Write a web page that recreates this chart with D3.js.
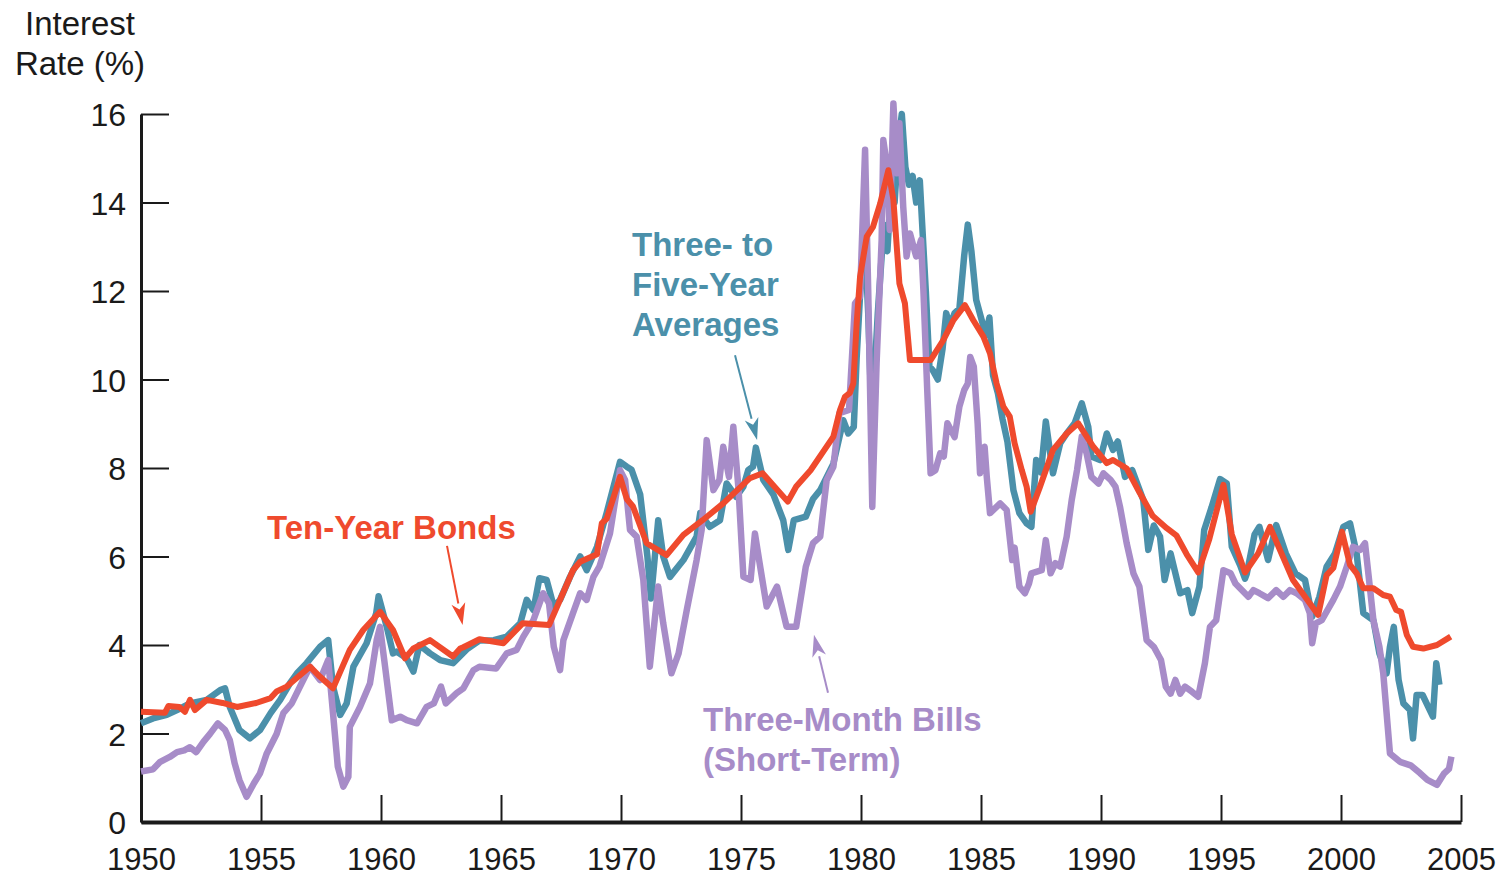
<!DOCTYPE html>
<html><head><meta charset="utf-8">
<script src="https://cdn.jsdelivr.net/npm/d3@7"></script>
<style>
body{margin:0;background:#fff}
text{font-family:"Liberation Sans",Arial,Helvetica,sans-serif}
</style>
</head><body><svg id="c" width="1501" height="877"></svg>
<script>
// ---- data ----
const yearTicks = [1950,1955,1960,1965,1970,1975,1980,1985,1990,1995,2000,2005];
const rateTicks = [0,2,4,6,8,10,12,14,16];

const tenYearBonds = [
[1950.0,2.49],[1951.0,2.47],[1951.14,2.62],[1951.6,2.6],[1951.83,2.49],[1952.04,2.76],[1952.25,2.53],
[1952.74,2.76],[1953.4,2.69],[1954.0,2.6],[1954.8,2.69],[1955.4,2.8],[1955.65,2.95],[1956.07,3.06],
[1957.04,3.51],[1957.46,3.28],[1958.0,3.02],[1958.7,3.89],[1959.26,4.34],[1959.96,4.75],[1960.5,4.34],
[1961.0,3.70],[1961.35,3.92],[1962.04,4.11],[1963.0,3.74],[1963.3,3.92],[1963.43,3.95],[1964.1,4.13],
[1965.1,4.04],[1965.9,4.49],[1967.0,4.45],[1968.0,5.69],[1968.3,5.88],[1969.0,6.05],[1969.2,6.75],
[1969.4,6.85],[1969.96,7.8],[1970.24,7.3],[1970.5,7.13],[1971.07,6.3],[1971.9,6.03],[1972.6,6.49],
[1973.4,6.82],[1974.26,7.2],[1975.37,7.77],[1975.9,7.88],[1976.95,7.24],[1977.3,7.58],[1977.9,7.95],
[1978.85,8.71],[1979.125,9.31],[1979.33,9.61],[1979.54,9.7],[1979.68,9.91],[1979.82,11.27],[1979.96,12.32],
[1980.1,12.78],[1980.24,13.23],[1980.5,13.45],[1980.8,13.98],[1981.14,14.73],[1981.35,14.06],[1981.6,12.17],
[1981.83,11.72],[1982.04,10.44],[1982.9,10.44],[1983.43,10.89],[1983.85,11.34],[1984.33,11.68],[1984.68,11.34],
[1985.1,10.97],[1985.375,10.59],[1985.65,9.91],[1985.93,9.39],[1986.2,9.16],[1986.4,8.56],[1986.7,7.95],
[1986.9,7.58],[1987.07,7.01],[1987.46,7.58],[1988.0,8.41],[1988.57,8.78],[1989.05,9.01],[1989.68,8.48],
[1990.24,8.11],[1990.5,8.18],[1991.07,7.99],[1991.6,7.45],[1992.15,6.92],[1992.74,6.64],[1993.15,6.47],
[1993.57,6.05],[1994.05,5.64],[1994.5,6.37],[1995.1,7.62],[1995.45,6.5],[1996.0,5.64],[1996.55,6.07],
[1997.04,6.67],[1998.0,5.47],[1999.05,4.68],[1999.4,5.58],[1999.68,5.74],[2000.04,6.56],[2000.375,5.81],
[2000.65,5.62],[2000.93,5.28],[2001.35,5.28],[2001.76,5.13],[2002.04,5.09],[2002.3,4.79],[2002.5,4.75],
[2002.74,4.23],[2003.0,3.96],[2003.43,3.92],[2004.0,4.0],[2004.57,4.19]
];

const threeToFiveYear = [
[1950.0,2.23],[1950.5,2.34],[1951.07,2.42],[1951.5,2.53],[1952.04,2.68],[1952.74,2.76],[1953.3,2.98],
[1953.5,3.02],[1953.7,2.6],[1954.1,2.08],[1954.54,1.89],[1954.96,2.08],[1955.4,2.46],[1955.8,2.76],
[1956.2,3.13],[1956.5,3.36],[1956.9,3.59],[1957.46,3.96],[1957.8,4.11],[1958.0,3.06],[1958.3,2.42],
[1958.57,2.68],[1958.85,3.51],[1959.4,4.04],[1959.8,4.72],[1959.9,5.1],[1960.24,4.41],[1960.5,3.81],
[1960.65,3.85],[1961.07,3.7],[1961.35,3.4],[1961.6,4.0],[1962.04,3.81],[1962.46,3.66],[1963.0,3.59],
[1963.57,3.9],[1964.1,4.1],[1964.7,4.11],[1965.24,4.19],[1965.8,4.49],[1966.07,5.02],[1966.35,4.79],
[1966.6,5.51],[1966.9,5.47],[1967.2,4.87],[1967.46,5.02],[1967.875,5.54],[1968.3,6.0],[1968.57,5.69],
[1969.0,6.22],[1969.4,6.98],[1969.96,8.14],[1970.24,8.03],[1970.44,7.96],[1970.8,7.4],[1971.1,6.0],
[1971.25,5.05],[1971.55,6.82],[1971.76,6.0],[1972.04,5.54],[1972.6,5.92],[1973.15,6.45],[1973.3,6.98],
[1973.7,6.67],[1974.125,6.82],[1974.4,7.65],[1974.8,7.35],[1975.1,7.58],[1975.3,7.95],[1975.5,8.03],
[1975.62,8.46],[1975.93,7.73],[1976.35,7.4],[1976.76,6.82],[1976.97,6.15],[1977.2,6.82],[1977.7,6.9],
[1978.0,7.3],[1978.3,7.5],[1978.85,8.1],[1979.26,9.08],[1979.47,8.78],[1979.7,8.93],[1979.82,10.5],
[1979.96,11.9],[1980.15,13.3],[1980.3,11.5],[1980.45,9.0],[1980.7,11.5],[1980.95,13.5],[1981.1,12.9],
[1981.25,14.3],[1981.4,14.0],[1981.55,15.3],[1981.7,16.0],[1981.85,14.8],[1982.0,14.4],[1982.15,14.6],
[1982.3,14.0],[1982.45,14.5],[1982.55,13.5],[1982.7,12.0],[1982.85,10.3],[1983.0,10.2],[1983.2,10.0],
[1983.4,10.7],[1983.55,11.5],[1983.7,11.2],[1983.9,11.5],[1984.1,11.6],[1984.3,12.8],[1984.45,13.5],
[1984.6,12.9],[1984.8,11.8],[1985.0,11.4],[1985.2,11.0],[1985.35,11.4],[1985.5,10.1],[1985.7,9.7],
[1985.9,9.1],[1986.1,8.6],[1986.35,7.5],[1986.6,6.98],[1986.9,6.75],[1987.1,6.67],[1987.3,8.18],
[1987.5,7.9],[1987.7,9.05],[1988.0,7.88],[1988.3,8.56],[1988.57,8.78],[1988.9,9.01],[1989.2,9.46],
[1989.47,8.93],[1989.6,8.26],[1989.96,8.18],[1990.24,8.78],[1990.5,8.41],[1990.7,8.6],[1991.0,7.8],
[1991.3,7.95],[1991.76,7.28],[1991.97,6.15],[1992.2,6.7],[1992.46,6.45],[1992.65,5.47],[1992.9,6.07],
[1993.3,5.17],[1993.6,5.24],[1993.8,4.72],[1994.1,5.32],[1994.3,6.6],[1994.6,7.1],[1994.96,7.75],
[1995.24,7.65],[1995.45,6.22],[1995.8,5.8],[1996.0,5.5],[1996.07,5.6],[1996.4,6.5],[1996.6,6.67],
[1996.96,5.92],[1997.3,6.71],[1997.7,6.07],[1998.1,5.62],[1998.5,5.47],[1998.8,4.64],[1999.1,5.09],
[1999.4,5.77],[1999.75,6.07],[2000.1,6.67],[2000.375,6.75],[2000.65,6.07],[2000.93,4.72],[2001.35,4.56],
[2001.6,3.81],[2001.9,3.36],[2002.04,3.96],[2002.2,4.41],[2002.4,3.21],[2002.6,2.68],[2002.875,2.53],
[2003.0,1.89],[2003.15,2.87],[2003.4,2.87],[2003.83,2.38],[2003.97,3.59],[2004.1,3.10]
];

const threeMonthBills = [
[1950.0,1.14],[1950.5,1.19],[1950.8,1.36],[1951.2,1.47],[1951.5,1.58],[1951.8,1.62],[1952.04,1.69],
[1952.3,1.58],[1952.6,1.81],[1952.875,1.99],[1953.2,2.23],[1953.5,2.08],[1953.7,1.85],[1953.9,1.33],
[1954.1,0.95],[1954.4,0.57],[1954.7,0.87],[1954.96,1.1],[1955.24,1.55],[1955.65,1.99],[1955.93,2.46],
[1956.28,2.68],[1956.76,3.21],[1957.04,3.51],[1957.46,3.21],[1957.8,3.66],[1958.0,2.46],[1958.2,1.25],
[1958.43,0.80],[1958.64,1.02],[1958.7,2.15],[1959.125,2.6],[1959.54,3.13],[1959.82,4.11],[1959.96,4.41],
[1960.17,3.51],[1960.45,2.3],[1960.8,2.38],[1961.07,2.3],[1961.5,2.23],[1961.9,2.6],[1962.2,2.68],
[1962.5,3.06],[1962.7,2.68],[1963.15,2.91],[1963.43,3.02],[1963.85,3.43],[1964.1,3.51],[1964.8,3.47],
[1965.24,3.81],[1965.65,3.89],[1965.93,4.19],[1966.35,4.56],[1966.76,5.17],[1967.0,4.94],[1967.2,3.96],
[1967.46,3.43],[1967.6,4.11],[1968.0,4.72],[1968.3,5.17],[1968.57,5.02],[1968.85,5.54],[1969.1,5.77],
[1969.54,6.52],[1969.96,7.95],[1970.17,7.73],[1970.375,6.6],[1970.65,6.45],[1970.93,5.47],[1971.2,3.51],
[1971.55,5.32],[1971.76,4.49],[1972.1,3.36],[1972.4,3.81],[1972.74,4.79],[1973.15,5.92],[1973.36,6.6],
[1973.57,8.63],[1973.85,7.5],[1974.1,7.73],[1974.26,8.48],[1974.5,7.8],[1974.68,8.93],[1974.9,7.5],
[1975.1,5.54],[1975.4,5.47],[1975.58,6.52],[1975.8,5.77],[1976.07,4.87],[1976.5,5.32],[1976.9,4.41],
[1977.3,4.41],[1977.7,5.77],[1978.0,6.3],[1978.3,6.45],[1978.57,7.73],[1978.85,8.03],[1979.1,9.24],
[1979.5,9.31],[1979.75,11.72],[1979.96,11.87],[1980.17,15.19],[1980.3,12.02],[1980.47,7.12],[1980.65,10.37],
[1980.86,13.15],[1980.93,15.41],[1981.07,14.88],[1981.2,13.38],[1981.35,16.24],[1981.5,14.66],[1981.6,15.79],
[1981.76,13.9],[1981.9,12.78],[1982.04,13.3],[1982.3,12.78],[1982.5,13.15],[1982.6,12.02],[1982.76,9.76],
[1982.9,7.88],[1983.1,7.95],[1983.3,8.33],[1983.45,8.26],[1983.6,9.01],[1983.9,8.7],[1984.1,9.39],
[1984.3,9.76],[1984.45,9.91],[1984.55,10.51],[1984.7,10.29],[1984.86,9.01],[1984.96,7.88],[1985.15,8.48],
[1985.24,7.8],[1985.375,6.98],[1985.8,7.2],[1986.07,7.05],[1986.3,5.92],[1986.4,6.2],[1986.6,5.32],
[1986.83,5.17],[1987.0,5.39],[1987.1,5.62],[1987.53,5.69],[1987.7,6.37],[1987.9,5.62],[1988.1,5.85],
[1988.3,5.77],[1988.57,6.45],[1988.78,7.28],[1989.0,7.95],[1989.2,8.71],[1989.4,8.33],[1989.6,7.8],
[1989.9,7.65],[1990.1,7.88],[1990.4,7.73],[1990.6,7.58],[1990.8,7.1],[1991.07,6.3],[1991.35,5.62],
[1991.6,5.32],[1991.9,4.11],[1992.2,3.96],[1992.5,3.66],[1992.7,3.06],[1992.9,2.9],[1993.1,3.21],
[1993.3,2.9],[1993.5,3.06],[1993.8,2.94],[1994.05,2.83],[1994.33,3.59],[1994.54,4.41],[1994.8,4.56],
[1995.1,5.69],[1995.4,5.62],[1995.6,5.39],[1996.14,5.09],[1996.35,5.24],[1996.6,5.17],[1996.96,5.06],
[1997.3,5.24],[1997.6,5.09],[1997.875,5.24],[1998.15,5.17],[1998.5,5.02],[1998.7,4.72],[1998.8,4.04],
[1998.95,4.49],[1999.2,4.56],[1999.68,5.02],[1999.96,5.32],[2000.24,5.77],[2000.5,6.22],[2000.8,6.15],
[2001.0,6.3],[2001.2,5.32],[2001.35,4.56],[2001.6,3.96],[2001.76,3.36],[2001.9,2.46],[2002.04,1.55],
[2002.46,1.36],[2002.9,1.28],[2003.3,1.1],[2003.6,0.95],[2004.0,0.84],[2004.3,1.1],[2004.5,1.2],[2004.6,1.48]
];

// annotation labels and arrow anchors (data coordinates: [year, rate])
const labelBonds = ["Ten-Year Bonds"];
const labelMedium = ["Three- to", "Five-Year", "Averages"];
const labelBills = ["Three-Month Bills", "(Short-Term)"];
const axisTitle = ["Interest", "Rate (%)"];

// ---- drawing ----
const svg = d3.select("#c");
const x = d3.scaleLinear().domain([1950, 2005]).range([141, 1461]);
const y = d3.scaleLinear().domain([0, 16]).range([822, 114]);

const colTeal = "#4b90aa", colPurple = "#a78cc8", colRed = "#ef4a2d", ink = "#1a1a1a";

// axes
const gy = svg.append("g").attr("transform", `translate(${x(1950)},0)`)
  .call(d3.axisLeft(y).tickValues(rateTicks).tickSizeInner(-28).tickSizeOuter(0).tickPadding(15)
    .tickFormat(d3.format("d")));
const gx = svg.append("g").attr("transform", `translate(0,${y(0)})`)
  .call(d3.axisBottom(x).tickValues(yearTicks).tickSizeInner(-27).tickSizeOuter(0).tickPadding(26)
    .tickFormat(d3.format("d")));
[gy, gx].forEach(g => {
  g.selectAll(".tick line").attr("stroke", ink).attr("stroke-width", 2);
  g.selectAll(".tick text").attr("fill", ink).style("font-size", "31px")
    .style("font-family", '"Liberation Sans",Arial,sans-serif');
});
gy.selectAll(".tick text").style("font-size", "32px").attr("dy", "0.36em");
gy.select(".domain").attr("stroke", ink).attr("stroke-width", 3);
gx.select(".domain").attr("stroke", ink).attr("stroke-width", 4);

// lines
const line = d3.line().x(d => x(d[0])).y(d => y(d[1]));
const drawLine = (data, color, w) => svg.append("path").datum(data)
  .attr("d", line).attr("fill", "none").attr("stroke", color).attr("stroke-width", w)
  .attr("stroke-linejoin", "round").attr("stroke-linecap", "butt");
drawLine(threeToFiveYear, colTeal, 6.5);
drawLine(threeMonthBills, colPurple, 6.5);
drawLine(tenYearBonds, colRed, 6);

// axis title
svg.append("text").attr("x", 80).attr("y", 35).attr("text-anchor", "middle")
  .attr("fill", ink).style("font-size", "33px").text(axisTitle[0]);
svg.append("text").attr("x", 80).attr("y", 75).attr("text-anchor", "middle")
  .attr("fill", ink).style("font-size", "33px").text(axisTitle[1]);

// labels
function labelBlock(lines, x0, y0, lh, color) {
  lines.forEach((t, i) => svg.append("text").attr("x", x0).attr("y", y0 + i * lh)
    .attr("fill", color).style("font-size", "33px").style("font-weight", "bold").text(t));
}
labelBlock(labelBonds, 267, 539, 40, colRed);
labelBlock(labelMedium, 632, 256, 40, colTeal);
labelBlock(labelBills, 703, 731, 40, colPurple);

// arrows
function arrow(from, to, color) {
  const x1 = x(from[0]), y1 = y(from[1]), x2 = x(to[0]), y2 = y(to[1]);
  const a = Math.atan2(y2 - y1, x2 - x1), L = 22, hw = 7;
  const bx = x2 - L * Math.cos(a), by = y2 - L * Math.sin(a);
  svg.append("line").attr("x1", x1).attr("y1", y1).attr("x2", bx).attr("y2", by)
    .attr("stroke", color).attr("stroke-width", 2);
  const p = [[x2, y2],
    [bx + hw * Math.sin(a), by - hw * Math.cos(a)],
    [x2 - (L - 6) * Math.cos(a), y2 - (L - 6) * Math.sin(a)],
    [bx - hw * Math.sin(a), by + hw * Math.cos(a)]];
  svg.append("polygon").attr("points", p.map(q => q.join(",")).join(" ")).attr("fill", color);
}
arrow([1962.75, 6.24], [1963.4, 4.45], colRed);
arrow([1974.75, 10.55], [1975.67, 8.63], colTeal);
arrow([1978.625, 2.92], [1978.04, 4.23], colPurple);
</script></body></html>
